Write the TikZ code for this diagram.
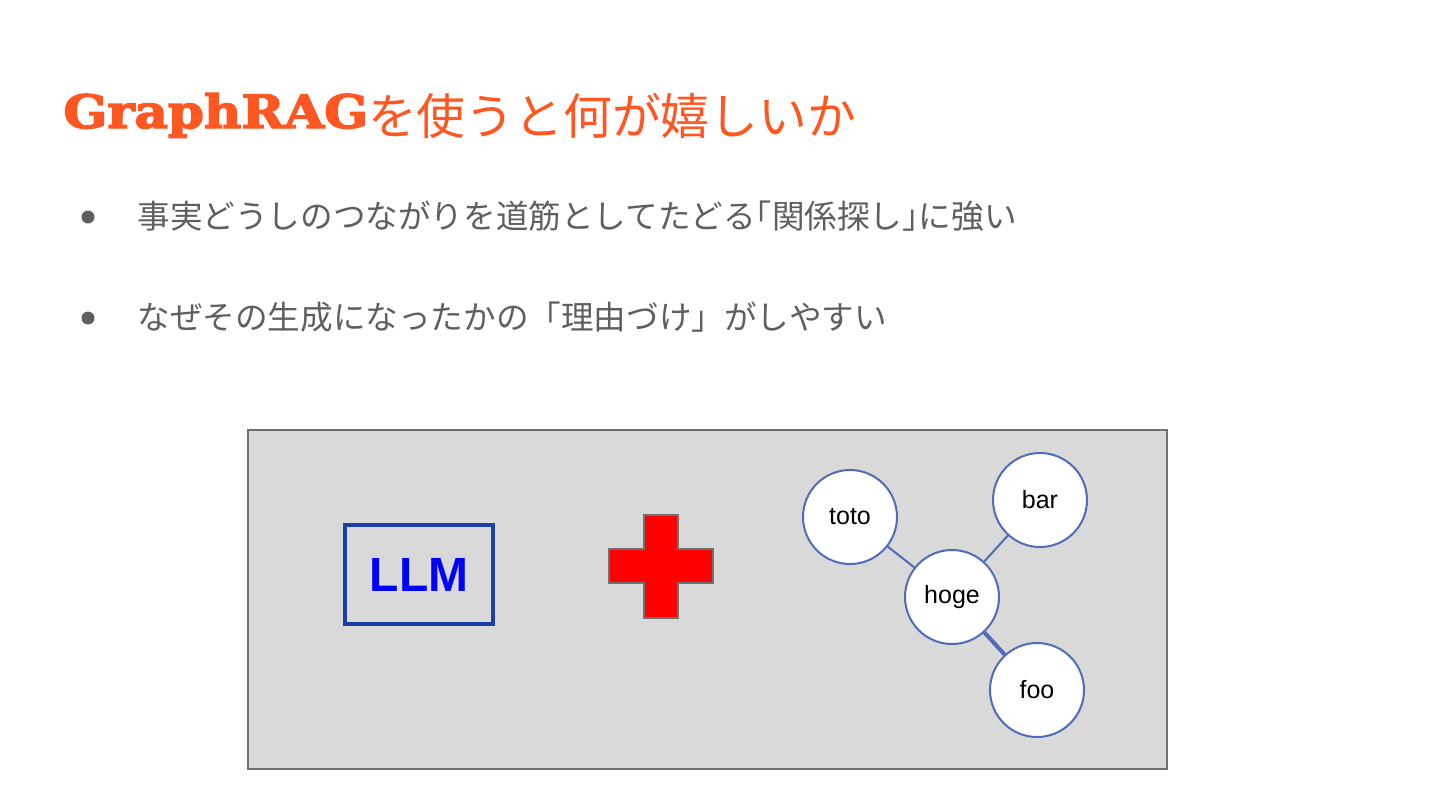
\documentclass[tikz,border=0pt]{standalone}
\usepackage{fontspec}
\setmainfont{Liberation Sans}
\newfontfamily\cjk{Noto Sans CJK JP}
\newfontfamily\slab[BoldFont={DejaVu Serif Bold},BoldFeatures={FakeBold=3}]{DejaVu Serif}
\usetikzlibrary{positioning}
\definecolor{accent}{HTML}{FF5722}
\definecolor{bodytext}{HTML}{5F5F5F}
\definecolor{panel}{HTML}{D9D9D9}
\definecolor{panelline}{HTML}{707070}
\definecolor{llmblue}{HTML}{1E3FA8}
\definecolor{nodeline}{HTML}{4E6DB6}

\begin{document}
\begin{tikzpicture}[x=0.5pt,y=-0.5pt,
  bullet/.style={circle,fill=bodytext,inner sep=0pt,minimum size=6.5pt},
  item/.style={anchor=base west,inner sep=0pt,text=bodytext,font=\cjk\fontsize{16.3}{18}\selectfont},
  entity/.style={circle,draw=nodeline,line width=1pt,fill=white,minimum size=47pt,inner sep=0pt,font=\fontsize{12.5}{14}\selectfont},
  link/.style={nodeline,line width=1pt}]
  \useasboundingbox (0,0) rectangle (1440,810);
  \fill[white] (0,0) rectangle (1440,810);

  % Title
  \node[anchor=base west,inner sep=0pt,text=accent] (title) at (63,134)
    {\raisebox{3pt}{\scalebox{1.12}[1]{\slab\bfseries\fontsize{23}{26}\selectfont GraphRAG}}{\cjk\fontsize{24.4}{28}\selectfont を使うと何が嬉しいか}};

  % Bullets
  \node[bullet] (dot1) at (88,217) {};
  \node[item] (item1) at (137,228) {事実どうしのつながりを道筋としてたどる｢関係探し｣に強い};
  \node[bullet] (dot2) at (88,318) {};
  \node[item] (item2) at (137,329) {なぜその生成になったかの「理由づけ」がしやすい};

  % Panel
  \draw[panelline,fill=panel,line width=0.6pt] (248,430) rectangle (1167,769);

  % LLM
  \node[draw=llmblue,line width=1.6pt,minimum width=74pt,minimum height=49.5pt,
    text=blue,font=\bfseries\fontsize{24}{26}\selectfont] (llm) at (419,574.5) {LLM};

  % Plus
  \draw[panelline,fill=red,line width=0.6pt]
    (644,515) -- (678,515) -- (678,549) -- (713,549) -- (713,583) -- (678,583)
    -- (678,618) -- (644,618) -- (644,583) -- (609,583) -- (609,549) -- (644,549) -- cycle;

  % Graph
  \node[entity] (hoge) at (952,597) {hoge};
  \node[entity] (toto) at (850,517) {toto};
  \node[entity] (bar) at (1040,500) {bar};
  \node[entity] (foo) at (1037,690) {foo};
  \draw[link] (hoge) -- (toto);
  \draw[link] (hoge) -- (bar);
  \draw[link,line width=2pt] (hoge) -- (foo);
\end{tikzpicture}
\end{document}
